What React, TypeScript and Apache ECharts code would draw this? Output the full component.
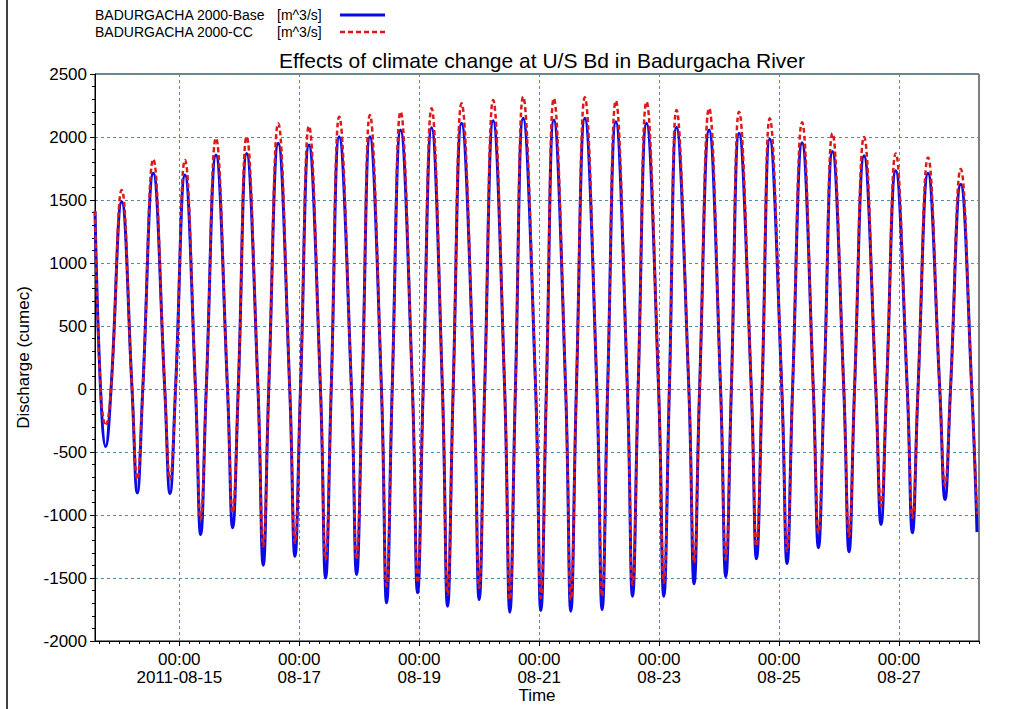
import React, { useEffect, useRef } from "react";
import * as echarts from "echarts";

// Hours are counted from 2011-08-15 00:00
const startHour = -33.7;
const startBase = 1410;
const startCC = 1410;

const troughHours = [
  -29.44, -16.8, -3.72, 8.56, 21.36, 33.6, 46.28, 58.56, 70.96, 82.96, 95.36, 107.36, 120.0, 132.28,
  144.68, 156.68, 169.2, 181.36, 193.88, 206.0, 218.68, 230.96, 243.2, 255.76, 268.0, 280.8, 293.36,
  306.4, 319.2,
];
const troughBase = [
  -457, -825, -830, -1155, -1102, -1398, -1327, -1500, -1472, -1697, -1618, -1724, -1671, -1771,
  -1758, -1763, -1750, -1645, -1645, -1546, -1490, -1348, -1385, -1260, -1292, -1075, -1141,
  -877, -1136,
];
const troughCC = [
  -290, -718, -718, -1036, -983, -1248, -1221, -1353, -1353, -1565, -1538, -1631, -1578, -1671,
  -1658, -1671, -1645, -1552, -1538, -1380, -1353, -1248, -1287, -1141, -1168, -930, -1022,
  -768, -994,
];
const fallZeroHours = [
  -31.5, -18.9, -5.8, 6.5, 19.3, 31.5, 44.2, 56.5, 68.9, 80.9, 93.3, 105.3, 117.9, 130.2,
  142.6, 154.6, 167.1, 179.3, 191.8, 203.9, 216.6, 228.9, 241.1, 253.7, 265.9, 278.7, 291.3,
  304.3, 317.1,
];
const riseZeroHours = [
  -27.3, -14.6, -1.5, 10.8, 23.6, 35.8, 48.5, 60.8, 73.2, 85.2, 97.6, 109.6, 122.2, 134.5,
  146.9, 158.9, 171.4, 183.6, 196.1, 208.2, 220.9, 233.2, 245.4, 258.0, 270.2, 283.0, 295.6,
  308.6,
];
const peakHours = [
  -23.04, -10.4, 2.28, 14.68, 26.96, 39.6, 51.88, 64.0, 76.28, 88.56, 100.96, 112.96, 125.6, 137.6,
  149.88, 162.28, 174.68, 186.96, 198.96, 212.0, 224.0, 236.28, 249.2, 261.36, 274.0, 286.68, 299.6,
  312.68,
];
const peakBase = [
  1486, 1712, 1698, 1857, 1870, 1950, 1937, 2002, 2002, 2055, 2074, 2109, 2129, 2148,
  2135, 2148, 2121, 2109, 2078, 2055, 2029, 1984, 1955, 1884, 1852, 1733, 1712, 1625,
];
const peakCC = [
  1579, 1823, 1817, 1990, 2002, 2108, 2087, 2161, 2175, 2201, 2228, 2267, 2294, 2320,
  2307, 2315, 2288, 2280, 2214, 2228, 2201, 2148, 2117, 2029, 2000, 1870, 1838, 1746,
];

const xMin = -33.72;
const xMax = 320;
const majorTickHours = [0, 48, 96, 144, 192, 240, 288];
const tickLabels = [
  "00:00\n2011-08-15",
  "00:00\n08-17",
  "00:00\n08-19",
  "00:00\n08-21",
  "00:00\n08-23",
  "00:00\n08-25",
  "00:00\n08-27",
];
const minorTickHours = [
  -32, -28, -24, -20, -16, -12, -8, -4, 0, 4, 8, 12, 16, 20, 24, 28, 32, 36, 40, 44, 48, 52, 56, 60,
  64, 68, 72, 76, 80, 84, 88, 92, 96, 100, 104, 108, 112, 116, 120, 124, 128, 132, 136, 140, 144,
  148, 152, 156, 160, 164, 168, 172, 176, 180, 184, 188, 192, 196, 200, 204, 208, 212, 216, 220,
  224, 228, 232, 236, 240, 244, 248, 252, 256, 260, 264, 268, 272, 276, 280, 284, 288, 292, 296,
  300, 304, 308, 312, 316, 320,
];

const seriesNames = ["BADURGACHA 2000-Base", "BADURGACHA 2000-CC"];
const unitLabel = "[m^3/s]";
const titleText = "Effects of climate change at U/S Bd in Badurgacha River";
const yName = "Discharge (cumec)";
const xName = "Time";

const BLUE = "#0a0ae6";
const RED = "#dc1a1a";

function buildPoints(start: number, troughs: number[], peaks: number[]) {
  const pts: [number, number][] = [[startHour, start]];
  for (let i = 0; i < troughHours.length; i++) {
    pts.push([fallZeroHours[i], 0]);
    pts.push([troughHours[i], troughs[i]]);
    if (i < riseZeroHours.length) pts.push([riseZeroHours[i], 0]);
    if (i < peakHours.length) pts.push([peakHours[i], peaks[i]]);
  }
  return pts;
}

const FONT = "Arial, 'Liberation Sans', Helvetica, sans-serif";

export default function App() {
  const ref = useRef<HTMLDivElement>(null);
  useEffect(() => {
    if (!ref.current) return;
    const chart = echarts.init(ref.current, undefined, { renderer: "svg" });
    const gridColor = "#5a8aa0";
    const legendRows = [
      { name: seriesNames[0], y: 15, color: BLUE, dash: null as number[] | null, width: 3 },
      { name: seriesNames[1], y: 32, color: RED, dash: [5, 3], width: 2.5 },
    ];
    const legendGraphics: any[] = [];
    legendRows.forEach((r) => {
      legendGraphics.push({
        type: "text",
        x: 95,
        y: r.y,
        silent: true,
        style: { text: r.name, font: `14px ${FONT}`, fill: "#000", verticalAlign: "middle", align: "left" },
      });
      legendGraphics.push({
        type: "text",
        x: 277,
        y: r.y,
        silent: true,
        style: { text: unitLabel, font: `14px ${FONT}`, fill: "#000", verticalAlign: "middle", align: "left" },
      });
      legendGraphics.push({
        type: "line",
        silent: true,
        shape: { x1: 340, y1: r.y, x2: 385, y2: r.y },
        style: { stroke: r.color, lineWidth: r.width, lineDash: r.dash || undefined },
      });
    });
    chart.setOption({
      animation: false,
      backgroundColor: "#ffffff",
      textStyle: { fontFamily: FONT },
      title: {
        text: titleText,
        left: 537,
        top: 45,
        textAlign: "center",
        textStyle: { fontFamily: FONT, fontSize: 21, fontWeight: "normal", color: "#000" },
      },
      grid: {
        left: 95,
        right: 50,
        top: 74,
        bottom: 68,
        containLabel: false,
        outerBoundsMode: "none",
        show: true,
        borderColor: "#000",
        borderWidth: 1,
        backgroundColor: "#fff",
      },
      xAxis: [
        {
          type: "value",
          min: xMin,
          max: xMax,
          position: "bottom",
          name: xName,
          nameLocation: "middle",
          nameGap: 46,
          nameMoveOverlap: false,
          nameTextStyle: { fontFamily: FONT, fontSize: 17, color: "#000" },
          axisLine: { show: true, onZero: false, lineStyle: { color: "#000", width: 1 } },
          axisTick: { show: true, inside: false, length: 5, customValues: majorTickHours, lineStyle: { color: "#000" } },
          axisLabel: {
            customValues: majorTickHours,
            formatter: (v: number) => {
              const i = majorTickHours.indexOf(Math.round(v));
              return i >= 0 ? tickLabels[i] : "";
            },
            fontFamily: FONT,
            fontSize: 17,
            lineHeight: 18,
            color: "#000",
            margin: 9,
          },
          splitLine: { show: true, lineStyle: { color: gridColor, type: [3, 3], width: 1 } },
        },
        {
          type: "value",
          min: xMin,
          max: xMax,
          position: "bottom",
          axisLine: { show: false, onZero: false },
          axisTick: { show: true, inside: false, length: 3, customValues: minorTickHours, lineStyle: { color: "#000" } },
          axisLabel: { show: false },
          splitLine: { show: false },
        },
      ],
      yAxis: {
        type: "value",
        min: -2000,
        max: 2500,
        interval: 500,
        name: yName,
        nameLocation: "middle",
        nameGap: 63,
        nameMoveOverlap: false,
        nameTextStyle: { fontFamily: FONT, fontSize: 17, color: "#000" },
        axisLine: { show: true, onZero: false, lineStyle: { color: "#000", width: 1 } },
        axisTick: { show: true, inside: false, length: 5, lineStyle: { color: "#000" } },
        minorTick: { show: true, splitNumber: 5, length: 3, lineStyle: { color: "#000" } },
        axisLabel: {
          fontFamily: FONT,
          fontSize: 17,
          color: "#000",
          margin: 8,
          formatter: (v: number) => String(v),
        },
        splitLine: { show: true, lineStyle: { color: gridColor, type: [3, 3], width: 1 } },
      },
      graphic: [
        {
          type: "line",
          shape: { x1: 7, y1: 0, x2: 7, y2: 709 },
          style: { stroke: "#000", lineWidth: 1.5 },
          silent: true,
        },
        ...legendGraphics,
      ],
      series: [
        {
          name: seriesNames[0],
          type: "line",
          xAxisIndex: 0,
          data: buildPoints(startBase, troughBase, peakBase),
          showSymbol: false,
          symbol: "none",
          smooth: 0.45,
          lineStyle: { color: BLUE, width: 3 },
          itemStyle: { color: BLUE },
          z: 2,
        },
        {
          name: seriesNames[1],
          type: "line",
          xAxisIndex: 0,
          data: buildPoints(startCC, troughCC, peakCC),
          showSymbol: false,
          symbol: "none",
          smooth: 0.45,
          lineStyle: { color: RED, width: 2.5, type: [5, 3] },
          itemStyle: { color: RED },
          z: 3,
        },
      ],
    });
    return () => chart.dispose();
  }, []);
  return (
    <div
      ref={ref}
      style={{ position: "fixed", left: 0, top: 0, width: 1029, height: 709, background: "#fff" }}
    />
  );
}
